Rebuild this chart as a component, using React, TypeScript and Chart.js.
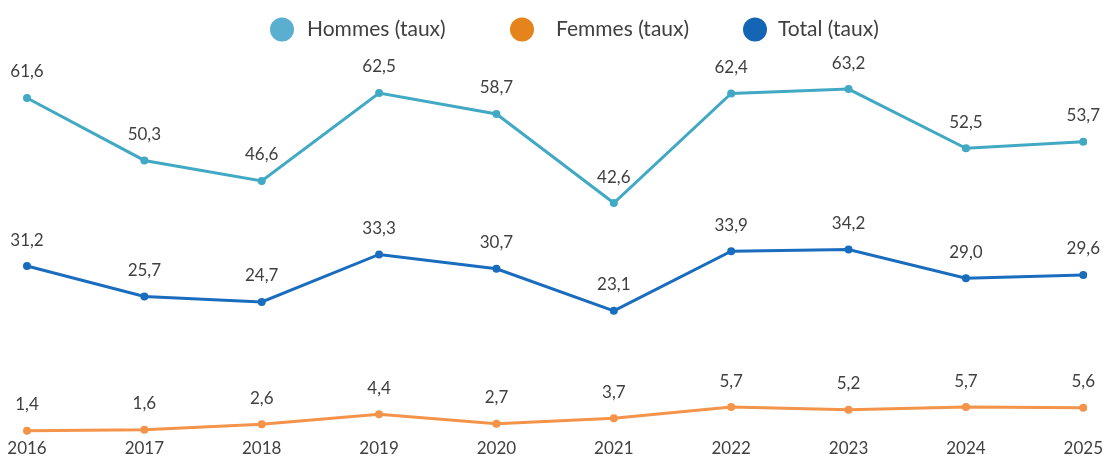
import React, { useEffect, useRef } from "react";
import { Chart, registerables } from "chart.js";

Chart.register(...registerables);

const years = ["2016", "2017", "2018", "2019", "2020", "2021", "2022", "2023", "2024", "2025"];
const hommes = [61.6, 50.3, 46.6, 62.5, 58.7, 42.6, 62.4, 63.2, 52.5, 53.7];
const femmes = [1.4, 1.6, 2.6, 4.4, 2.7, 3.7, 5.7, 5.2, 5.7, 5.6];
const total = [31.2, 25.7, 24.7, 33.3, 30.7, 23.1, 33.9, 34.2, 29.0, 29.6];

const seriesLabels = ["Hommes (taux)", "Femmes (taux)", "Total (taux)"];
const lineColors = ["#42A9C4", "#F4944A", "#1A6DBE"];
const legendColors = ["#5AAED0", "#E5841C", "#1565B5"];

// legend layout (circle left edge, text start)
const legendCircleX = [270, 510, 743];
const legendTextX = [307, 556, 778];

const FONT = "Lato, 'Open Sans', sans-serif";
const TEXT_COLOR = "#404040";

const fmt = (v: number) => v.toFixed(1).replace(".", ",");

const valueLabelsPlugin = {
  id: "valueLabels",
  afterDatasetsDraw(chart: any) {
    const ctx = chart.ctx;
    ctx.save();
    ctx.font = `17px ${FONT}`;
    ctx.fillStyle = TEXT_COLOR;
    ctx.textAlign = "center";
    ctx.textBaseline = "middle";
    chart.data.datasets.forEach((ds: any, i: number) => {
      const meta = chart.getDatasetMeta(i);
      meta.data.forEach((pt: any, j: number) => {
        ctx.fillText(fmt(ds.data[j]), pt.x, pt.y - 26);
      });
    });
    ctx.restore();
  },
};

const customLegendPlugin = {
  id: "customLegend",
  afterDraw(chart: any) {
    const ctx = chart.ctx;
    ctx.save();
    ctx.font = `21px ${FONT}`;
    ctx.textBaseline = "middle";
    ctx.textAlign = "left";
    const cy = 29.5;
    const r = 12;
    chart.data.datasets.forEach((ds: any, i: number) => {
      ctx.beginPath();
      ctx.fillStyle = legendColors[i];
      ctx.arc(legendCircleX[i] + r, cy, r, 0, Math.PI * 2);
      ctx.fill();
      ctx.fillStyle = TEXT_COLOR;
      ctx.fillText(ds.label, legendTextX[i], cy);
    });
    ctx.restore();
  },
};

export default function App() {
  const canvasRef = useRef<HTMLCanvasElement | null>(null);

  useEffect(() => {
    if (!canvasRef.current) return;
    const series = [hommes, femmes, total];
    const chart = new Chart(canvasRef.current, {
      type: "line",
      data: {
        labels: years,
        datasets: series.map((d, i) => ({
          label: seriesLabels[i],
          data: d,
          borderColor: lineColors[i],
          backgroundColor: lineColors[i],
          borderWidth: 3,
          pointRadius: 4,
          pointHoverRadius: 4,
          pointBackgroundColor: lineColors[i],
          pointBorderWidth: 0,
          tension: 0,
          fill: false,
        })),
      },
      options: {
        animation: false,
        responsive: true,
        maintainAspectRatio: false,
        layout: { padding: { top: 51.5, left: 27, right: 18, bottom: -1 } },
        plugins: {
          legend: { display: false },
          title: { display: false },
          tooltip: { enabled: false },
        },
        scales: {
          x: {
            offset: false,
            grid: { display: false, drawTicks: false },
            border: { display: false },
            ticks: {
              padding: 0,
              color: TEXT_COLOR,
              font: { family: FONT, size: 17 },
              maxRotation: 0,
              autoSkip: false,
            },
          },
          y: {
            display: false,
            min: 0,
            max: 70,
          },
        },
      },
      plugins: [valueLabelsPlugin, customLegendPlugin],
    });
    return () => chart.destroy();
  }, []);

  return (
    <div style={{ position: "absolute", left: 0, top: 0, width: 1103, height: 458, background: "#fff" }}>
      <canvas ref={canvasRef} />
    </div>
  );
}
